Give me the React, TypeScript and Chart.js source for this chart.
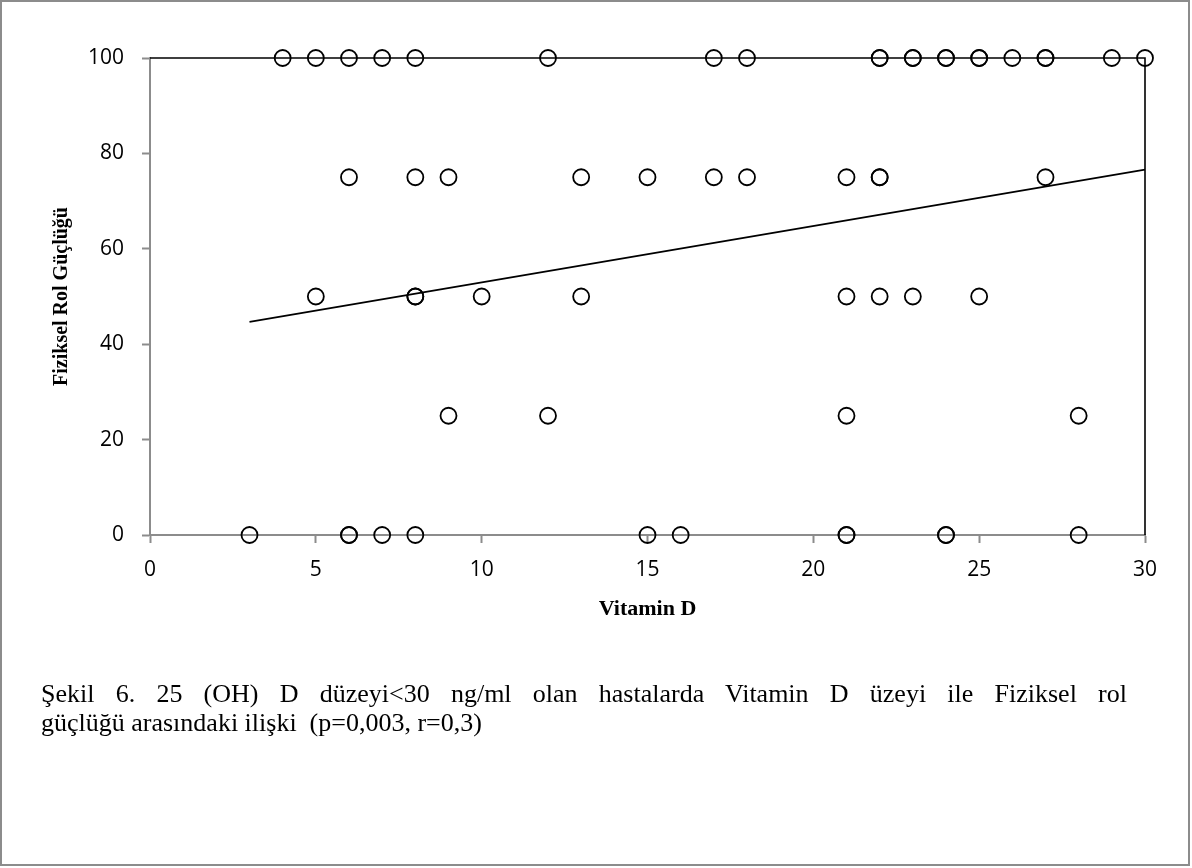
import React, { useEffect, useRef } from "react";
import { Chart, registerables } from "chart.js";

Chart.register(...registerables);

// Vitamin D values of patients, grouped by their Fiziksel Rol Güçlüğü score
const vitD_score100 = [4, 5, 6, 7, 8, 12, 17, 18, 22, 22, 23, 23, 24, 24, 25, 25, 26, 27, 27, 29, 30];
const vitD_score75 = [6, 8, 9, 13, 15, 17, 18, 21, 22, 22, 27];
const vitD_score50 = [5, 8, 8, 10, 13, 21, 22, 23, 25];
const vitD_score25 = [9, 12, 21, 28];
const vitD_score0 = [3, 6, 6, 7, 8, 15, 16, 21, 21, 24, 24, 28];
const scoreLevels = [100, 75, 50, 25, 0];

// linear trend line end points
const trendX = [3, 30];
const trendY = [44.7, 76.6];

const xTicks = [0, 5, 10, 15, 20, 25, 30];
const yTicks = [0, 20, 40, 60, 80, 100];

const xTitle = "Vitamin D";
const yTitle = "Fiziksel Rol Güçlüğü";
const captionLine1 = "Şekil 6. 25 (OH) D düzeyi<30 ng/ml olan hastalarda Vitamin D üzeyi ile Fiziksel rol";
const captionLine2 = "güçlüğü arasındaki ilişki  (p=0,003, r=0,3)";

export default function App() {
  const ref = useRef<HTMLCanvasElement | null>(null);

  useEffect(() => {
    if (!ref.current) return;
    const groups = [vitD_score100, vitD_score75, vitD_score50, vitD_score25, vitD_score0];
    const points: { x: number; y: number }[] = [];
    groups.forEach((g, i) => g.forEach((v) => points.push({ x: v, y: scoreLevels[i] })));
    const trend = trendX.map((x, i) => ({ x, y: trendY[i] }));

    const frame = {
      id: "frame",
      beforeDatasetsDraw(chart: any) {
        const { ctx, chartArea } = chart;
        const { left, top, right, bottom } = chartArea;
        ctx.save();
        ctx.strokeStyle = "#000";
        ctx.lineWidth = 1.6;
        ctx.beginPath();
        ctx.moveTo(left, top);
        ctx.lineTo(right, top);
        ctx.lineTo(right, bottom);
        ctx.stroke();
        ctx.restore();
      },
    };

    const tickFont = { family: "'Open Sans', sans-serif", size: 21 };
    const titleFont = { family: "'Liberation Serif', serif", size: 20, weight: "bold" as const };

    const chart = new Chart(ref.current, {
      type: "scatter",
      data: {
        datasets: [
          {
            type: "scatter",
            data: points,
            pointRadius: 8,
            pointHoverRadius: 8,
            pointBorderWidth: 1.8,
            pointBorderColor: "#000",
            pointBackgroundColor: "rgba(0,0,0,0)",
            clip: false as any,
          },
          {
            type: "line",
            data: trend,
            borderColor: "#000",
            borderWidth: 1.8,
            pointRadius: 0,
            fill: false,
            clip: false as any,
          },
        ],
      },
      options: {
        responsive: false,
        animation: false,
        layout: { padding: { left: 0, top: 58, right: 47, bottom: 233 } },
        plugins: { legend: { display: false }, tooltip: { enabled: false } },
        scales: {
          x: {
            type: "linear",
            min: 0,
            max: 30,
            afterFit: (s: any) => {
              s.height = 100;
            },
            afterBuildTicks: (s: any) => {
              s.ticks = xTicks.map((v) => ({ value: v }));
            },
            grid: {
              drawOnChartArea: false,
              drawTicks: true,
              tickLength: 8,
              tickColor: "#8c8c8c",
              tickWidth: 2,
            },
            border: { color: "#8c8c8c", width: 2 },
            ticks: { color: "#000", font: tickFont, padding: 14, maxRotation: 0 },
            title: {
              display: true,
              text: xTitle,
              color: "#000",
              font: { ...titleFont, size: 22 },
              padding: { top: 0, bottom: 12 },
            },
          },
          y: {
            type: "linear",
            min: 0,
            max: 100,
            afterFit: (s: any) => {
              s.width = 150;
            },
            afterBuildTicks: (s: any) => {
              s.ticks = yTicks.map((v) => ({ value: v }));
            },
            grid: {
              drawOnChartArea: false,
              drawTicks: true,
              tickLength: 8,
              tickColor: "#8c8c8c",
              tickWidth: 2,
            },
            border: { color: "#8c8c8c", width: 2 },
            ticks: { color: "#000", font: tickFont, padding: 18 },
            title: {
              display: true,
              text: yTitle,
              color: "#000",
              font: titleFont,
              padding: { top: 50, bottom: 0 },
            },
          },
        },
      },
      plugins: [frame],
    });
    return () => chart.destroy();
  }, []);

  return (
    <div style={{ position: "absolute", left: 0, top: 0, width: 1192, height: 868, background: "#fff" }}>
      <div
        style={{
          position: "absolute",
          left: 0,
          top: 0,
          width: 1190,
          height: 866,
          border: "2px solid #8c8c8c",
          boxSizing: "border-box",
        }}
      />
      <canvas ref={ref} width={1192} height={868} style={{ position: "absolute", left: 0, top: 0 }} />
      <div
        style={{
          position: "absolute",
          left: 41,
          top: 679,
          width: 1086,
          fontFamily: "'Liberation Serif', serif",
          fontSize: 26,
          lineHeight: "29px",
          color: "#000",
        }}
      >
        <div style={{ textAlign: "justify", textAlignLast: "justify" as any, whiteSpace: "nowrap" }}>{captionLine1}</div>
        <div style={{ whiteSpace: "pre" }}>{captionLine2}</div>
      </div>
    </div>
  );
}
